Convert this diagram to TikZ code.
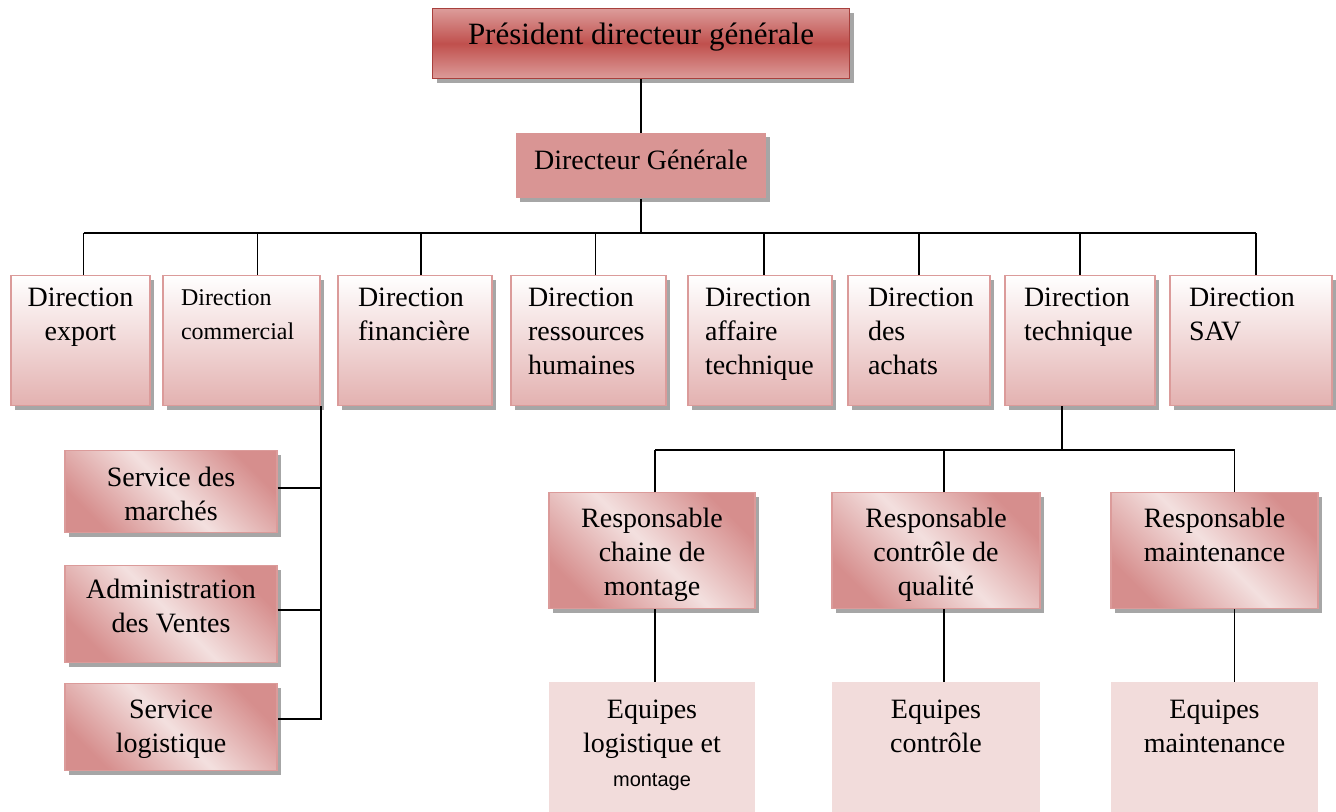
\documentclass[tikz,border=0pt]{standalone}
\usepackage{fontspec}
\setmainfont{Liberation Serif}
\newfontfamily\smallsans{Liberation Sans}
\usetikzlibrary{shadows, positioning}

\definecolor{pdgred}{HTML}{C0504D}
\definecolor{pdglight}{HTML}{DC9C9A}
\definecolor{pdgborder}{HTML}{A8403D}
\definecolor{dgfill}{HTML}{D99594}
\definecolor{dirline}{HTML}{DB9B9A}
\definecolor{dirbottom}{HTML}{E3B1B0}
\definecolor{svcdark}{HTML}{D68E8D}
\definecolor{svclight}{HTML}{F3E0DF}
\definecolor{eqfill}{HTML}{F2DCDB}

\begin{document}
\begin{tikzpicture}[
    x=0.5pt, y=-0.5pt,
    font=\fontsize{14}{17}\selectfont,
    link/.style={draw=black, line width=0.9pt},
    boxshadow/.style={drop shadow={shadow xshift=2pt, shadow yshift=-2pt, fill=black!50, opacity=0.7}},
    txt/.style n args={3}{inner sep=0pt, anchor=north,
        execute at begin node={\begin{minipage}[t][#2][t]{#1}\vspace*{#3}\centering},
        execute at end node={\end{minipage}}},
    flushl/.style={execute at begin node={\raggedright\leftskip=#1}},
    pdgbox/.style={draw=pdgborder, line width=0.6pt, top color=pdglight, bottom color=pdglight, middle color=pdgred, boxshadow},
    dgbox/.style={fill=dgfill, boxshadow},
    dirbox/.style={draw=dirline, line width=0.6pt, top color=white, bottom color=dirbottom, boxshadow},
    svcbox/.style={draw=dirline, line width=0.6pt, top color=svcdark, bottom color=svcdark, middle color=svclight, shading angle=-45, boxshadow},
    eqbox/.style={fill=eqfill}
]
\useasboundingbox (0,0) rectangle (1336,812);

\node[pdgbox, txt={208.5pt}{35pt}{7pt}, font=\fontsize{15.5}{18}\selectfont] (pdg) at (641,8) {Président directeur générale};
\node[dgbox, txt={125pt}{32.5pt}{8.5pt}] (dg) at (641,133) {Directeur Générale};

\node[dirbox, txt={69.5pt}{65pt}{6pt}] (dexp) at (80.5,275) {Direction\\export};
\node[dirbox, txt={78.5pt}{65pt}{7pt}, flushl=9pt, font=\fontsize{12}{17}\selectfont] (dcom) at (241.5,275) {Direction\\commercial};
\node[dirbox, txt={77pt}{65pt}{6pt}, flushl=10pt] (dfin) at (415,275) {Direction\\financière};
\node[dirbox, txt={77.5pt}{65pt}{6pt}, flushl=8.5pt] (drh) at (588.5,275) {Direction\\ressources\\humaines};
\node[dirbox, txt={72pt}{65pt}{6pt}, flushl=8.5pt] (daff) at (760,275) {Direction\\affaire\\technique};
\node[dirbox, txt={71pt}{65pt}{6pt}, flushl=10pt] (dach) at (919,275) {Direction\\des\\achats};
\node[dirbox, txt={75pt}{65pt}{6pt}, flushl=9.5pt] (dtech) at (1080,275) {Direction\\technique};
\node[dirbox, txt={81pt}{65pt}{6pt}, flushl=9.5pt] (dsav) at (1251,275) {Direction\\SAV};

\node[svcbox, txt={106pt}{41pt}{8pt}] (smar) at (171,450) {Service des\\marchés};
\node[svcbox, txt={106pt}{48.5pt}{6.5pt}] (sadm) at (171,565) {Administration\\des Ventes};
\node[svcbox, txt={106pt}{43.5pt}{8pt}] (slog) at (171,683) {Service\\logistique};

\node[svcbox, txt={103pt}{58pt}{7.5pt}] (rmon) at (652,492) {Responsable\\chaine de\\montage};
\node[svcbox, txt={104pt}{58pt}{7.5pt}] (rqua) at (936,492) {Responsable\\contrôle de\\qualité};
\node[svcbox, txt={103.5pt}{58pt}{7.5pt}] (rmai) at (1214.5,492) {Responsable\\maintenance};

\node[eqbox, txt={103pt}{65pt}{9pt}] (emon) at (652,682) {Equipes\\logistique et\\{\smallsans\fontsize{10}{17}\selectfont montage}};
\node[eqbox, txt={104pt}{65pt}{9pt}] (equa) at (936,682) {Equipes\\contrôle};
\node[eqbox, txt={103.5pt}{65pt}{9pt}] (emai) at (1214.5,682) {Equipes\\maintenance};

\draw[link] (pdg) -- (dg);
\coordinate (bus) at (641,233);
\draw[link] (dg) -- (bus);
\draw[link] ([xshift=1.5pt]dexp.north |- bus) -- ([xshift=2.5pt]dsav.north |- bus);
\foreach \d/\s in {dexp/1.5pt,dcom/8pt,dfin/3pt,drh/3.5pt,daff/2pt,dach/0pt,dtech/0pt,dsav/2.5pt}
    \draw[link] ([xshift=\s]\d.north) -- ([xshift=\s]\d.north |- bus);

\draw[link] (dcom.south east) |- ([yshift=4pt]slog.east);
\draw[link] ([yshift=2pt]smar.east) -- ([yshift=2pt]smar.east -| dcom.south east);
\draw[link] ([yshift=2pt]sadm.east) -- ([yshift=2pt]sadm.east -| dcom.south east);

\coordinate (bus2) at (1062,450);
\draw[link] (dtech.south -| bus2) -- (bus2);
\draw[link] ([xshift=1.5pt]rmon.north |- bus2) -- ([xshift=10pt]rmai.north |- bus2);
\foreach \r/\s in {rmon/1.5pt,rqua/4pt,rmai/10pt}
    \draw[link] ([xshift=\s]\r.north) -- ([xshift=\s]\r.north |- bus2);

\draw[link] ([xshift=1.5pt]rmon.south) -- ([xshift=1.5pt]emon.north);
\draw[link] ([xshift=4pt]rqua.south) -- ([xshift=4pt]equa.north);
\draw[link] ([xshift=10pt]rmai.south) -- ([xshift=10pt]emai.north);

\end{tikzpicture}
\end{document}
